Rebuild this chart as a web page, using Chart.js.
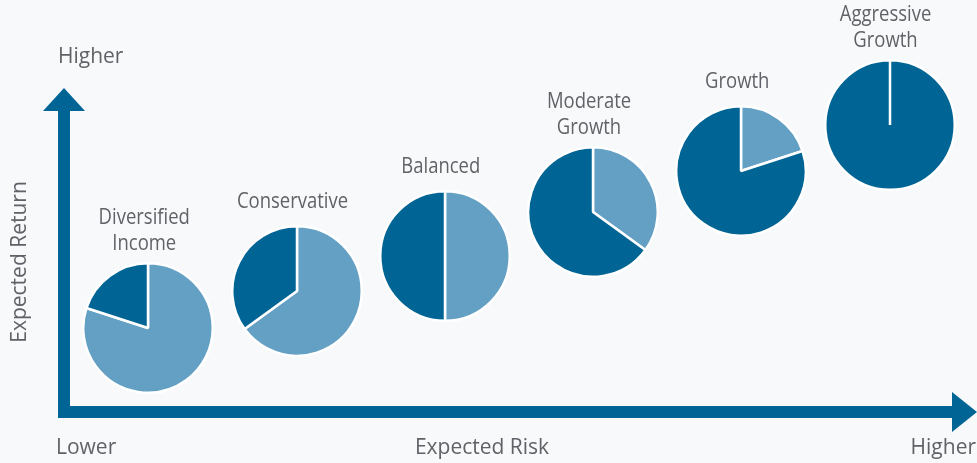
<!DOCTYPE html>
<html>
<head>
<meta charset="utf-8">
<script src="https://cdn.jsdelivr.net/npm/chart.js@4/dist/chart.umd.min.js"></script>
<style>
    html, body { margin: 0; padding: 0; background: #f8f9fb; }
    #wrap { position: relative; width: 977px; height: 463px; overflow: hidden; }
    #bg { position: absolute; left: 0; top: 0; }
    .pie { position: absolute; width: 132px; height: 132px; }
</style>
</head>
<body>
<div id="wrap">
    <canvas id="bg" width="977" height="463"></canvas>
</div>
<script>
// portfolios, low risk -> high risk
const portfolios = [['Diversified', 'Income'], ['Conservative'], ['Balanced'], ['Moderate', 'Growth'], ['Growth'], ['Aggressive', 'Growth']];
const riskLevel = [1, 2, 3, 4, 5, 6];
const returnLevel = [2.92, 3.71, 4.47, 5.42, 6.31, 7.30];
// share of each pie, first slice drawn clockwise from 12 o'clock
const incomeShare = [80, 65, 50, 35, 20, 0];
const growthShare = [20, 35, 50, 65, 80, 100];

const axisLabels = { yHigh: 'Higher', yTitle: 'Expected Return', xLow: 'Lower', xTitle: 'Expected Risk', xHigh: 'Higher' };

const DARK = '#006494';
const LIGHT = '#63a0c4';
const TEXT = '#5f6367';

const axesPlugin = {
    id: 'axes',
    beforeDraw(chart) {
        const ctx = chart.ctx;
        ctx.save();
        ctx.fillStyle = DARK;
        // vertical shaft + head
        ctx.fillRect(58, 108, 12, 310);
        ctx.beginPath();
        ctx.moveTo(64, 88);
        ctx.lineTo(85, 111);
        ctx.lineTo(43, 111);
        ctx.closePath();
        ctx.fill();
        // horizontal shaft + head
        ctx.fillRect(58, 406, 897, 12);
        ctx.beginPath();
        ctx.moveTo(977, 412);
        ctx.lineTo(952, 432);
        ctx.lineTo(952, 392);
        ctx.closePath();
        ctx.fill();

        ctx.fillStyle = TEXT;
        ctx.font = '21px "Open Sans", sans-serif';
        ctx.textBaseline = 'middle';
        ctx.textAlign = 'left';
        ctx.fillText(axisLabels.yHigh, 58, 57);
        ctx.fillText(axisLabels.xLow, 56, 448);
        ctx.textAlign = 'center';
        ctx.fillText(axisLabels.xTitle, 482, 448);
        ctx.textAlign = 'right';
        ctx.fillText(axisLabels.xHigh, 976, 448);
        ctx.translate(20, 262);
        ctx.rotate(-Math.PI / 2);
        ctx.textAlign = 'center';
        ctx.fillText(axisLabels.yTitle, 0, 0);
        ctx.restore();
    },
    afterDraw(chart) {
        // portfolio names above each pie (condensed look: squeeze horizontally)
        const ctx = chart.ctx;
        const xs = chart.scales.x, ys = chart.scales.y;
        const squeeze = 0.84;
        ctx.save();
        ctx.fillStyle = TEXT;
        ctx.font = '22px "Open Sans", sans-serif';
        ctx.textAlign = 'center';
        ctx.textBaseline = 'middle';
        portfolios.forEach((lines, i) => {
            const px = xs.getPixelForValue(riskLevel[i]) - 4;
            const top = ys.getPixelForValue(returnLevel[i]) - 63;
            const gap = lines.length > 1 ? 21 : 26;
            lines.forEach((line, j) => {
                ctx.save();
                ctx.translate(px, top - gap - (lines.length - 1 - j) * 26);
                ctx.scale(squeeze, 1);
                ctx.fillText(line, 0, 0);
                ctx.restore();
            });
        });
        ctx.restore();
    }
};

const bgChart = new Chart(document.getElementById('bg'), {
    type: 'scatter',
    data: {
        datasets: [{
            data: riskLevel.map((r, i) => ({ x: r, y: returnLevel[i] })),
            pointRadius: 0
        }]
    },
    options: {
        responsive: false,
        animation: false,
        layout: { padding: 0 },
        plugins: { legend: { display: false }, tooltip: { enabled: false } },
        scales: {
            x: { type: 'linear', display: false, min: 0, max: 6.59 },
            y: { type: 'linear', display: false, min: 0, max: 10 }
        }
    },
    plugins: [axesPlugin]
});

// one pie per portfolio, centred on its (risk, return) point
const wrap = document.getElementById('wrap');
portfolios.forEach((name, i) => {
    const cx = bgChart.scales.x.getPixelForValue(riskLevel[i]);
    const cy = bgChart.scales.y.getPixelForValue(returnLevel[i]);
    const box = document.createElement('div');
    box.className = 'pie';
    box.style.left = (cx - 66) + 'px';
    box.style.top = (cy - 66) + 'px';
    const cv = document.createElement('canvas');
    box.appendChild(cv);
    wrap.appendChild(box);

    new Chart(cv, {
        type: 'pie',
        data: {
            labels: ['Income', 'Growth'],
            datasets: [{
                data: [incomeShare[i], growthShare[i]],
                backgroundColor: [LIGHT, DARK],
                borderColor: '#ffffff',
                borderWidth: 2.5
            }]
        },
        options: {
            responsive: true,
            maintainAspectRatio: false,
            animation: false,
            layout: { padding: 0 },
            plugins: { legend: { display: false }, tooltip: { enabled: false } }
        }
    });
});
</script>
</body>
</html>
